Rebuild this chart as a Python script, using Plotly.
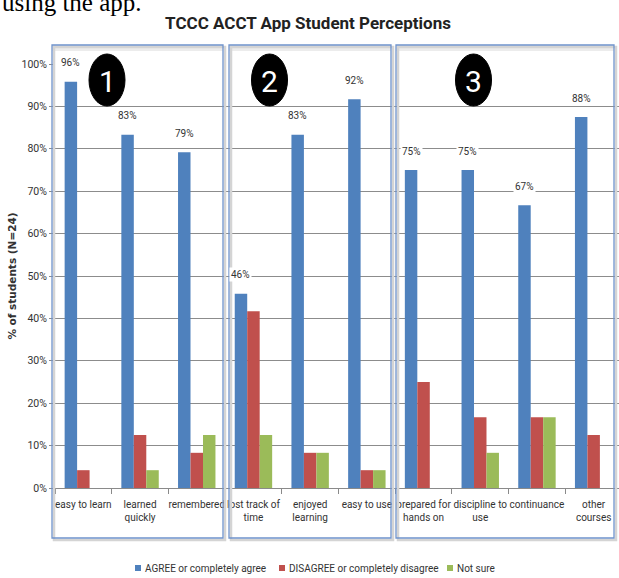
import plotly.graph_objects as go

# Survey results, percent of students (N=24)
categories = ["easy to learn", "learned<br>quickly", "remembered", "lost track of<br>time",
              "enjoyed<br>learning", "easy to use", "prepared for<br>hands on",
              "discipline to<br>use", "continuance", "other<br>courses"]
agree = [95.8, 83.3, 79.2, 45.8, 83.3, 91.7, 75.0, 75.0, 66.7, 87.5]
disagree = [4.2, 12.5, 8.3, 41.7, 8.3, 4.2, 25.0, 16.7, 16.7, 12.5]
not_sure = [0, 4.2, 12.5, 12.5, 8.3, 4.2, 0, 8.3, 16.7, 0]
series_names = ["AGREE or completely agree", "DISAGREE or completely disagree", "Not sure"]
y_ticks = list(range(0, 101, 10))
group_labels = ["1", "2", "3"]

FONT = "Roboto, Liberation Sans, sans-serif"
BLUE, RED, GREEN = "#4F81BD", "#C0504D", "#9BBB59"
colors = [BLUE, RED, GREEN]

# figure geometry (pixels)
W, H = 619, 578
L, T, B = 55, 64, 488
CAT_W = 56.7


def px(x):
    return (x - L) / (W - L)


def py(y):
    return (B - y) / (B - T)


fig = go.Figure()
for name, vals, col in zip(series_names, [agree, disagree, not_sure], colors):
    fig.add_trace(go.Bar(x=categories, y=vals, name=name, showlegend=False,
                         marker=dict(color=col, line=dict(width=0))))

# value labels on the "agree" bars
for c, v in zip(categories, agree):
    fig.add_annotation(x=c, y=v, xref="x", yref="y", text=f"{round(v)}%", showarrow=False,
                       xshift=-CAT_W * 0.22, yshift=19, bgcolor="white", borderpad=1,
                       font=dict(family=FONT, size=10, color="#333333"))

shapes = []
# panel boxes with a soft shadow
boxes = [(52, 45, 223, 538), (229, 45, 391, 538), (396, 45, 614, 538)]
for x0, y0, x1, y1 in boxes:
    shapes.append(dict(type="rect", xref="paper", yref="paper", layer="above",
                       x0=px(x0 + 2), x1=px(x1 + 2), y0=py(y0 + 2), y1=py(y1 + 2),
                       line=dict(color="#d4d4d4", width=2.5)))
    shapes.append(dict(type="rect", xref="paper", yref="paper", layer="below",
                       x0=px(x0), x1=px(x1), y0=py(y0), y1=py(y0 + 6),
                       fillcolor="#ececec", line=dict(width=0)))
    shapes.append(dict(type="rect", xref="paper", yref="paper", layer="above",
                       x0=px(x0), x1=px(x1), y0=py(y0), y1=py(y1),
                       line=dict(color="#6f93cc", width=1.3)))

# numbered group markers
centers = [107, 269.5, 473.5]
for cx, lab in zip(centers, group_labels):
    shapes.append(dict(type="circle", xref="paper", yref="paper", layer="above",
                       x0=px(cx - 18), x1=px(cx + 18), y0=py(54), y1=py(106),
                       fillcolor="black", line=dict(color="black", width=1)))
    fig.add_annotation(x=px(cx), y=py(81), xref="paper", yref="paper", text=lab,
                       xanchor="center", yanchor="middle", showarrow=False,
                       font=dict(family=FONT, size=30, color="white"))

# legend: small squares followed by the series names
legend_x = [135, 279, 447]
for name, col, lx in zip(series_names, colors, legend_x):
    shapes.append(dict(type="rect", xref="paper", yref="paper", layer="above",
                       x0=px(lx), x1=px(lx + 6), y0=py(571), y1=py(565),
                       fillcolor=col, line=dict(width=0)))
    fig.add_annotation(x=px(lx + 8), y=py(568), xref="paper", yref="paper", text=name,
                       xanchor="left", yanchor="middle", showarrow=False,
                       font=dict(family=FONT, size=10, color="#333333"))

# caption fragment at the top edge
fig.add_annotation(x=px(0), y=py(18), xref="paper", yref="paper", xanchor="left", yanchor="bottom",
                   text="using the app.", showarrow=False,
                   font=dict(family="Liberation Serif, Times New Roman, serif", size=25, color="black"))

fig.update_layout(
    width=W, height=H,
    margin=dict(l=L, r=0, t=T, b=H - B, pad=0),
    paper_bgcolor="white", plot_bgcolor="white",
    barmode="group", bargap=0.34, bargroupgap=0,
    shapes=shapes,
    showlegend=False,
    title=dict(text="<b>TCCC ACCT App Student Perceptions</b>", xref="container",
               x=308 / W, xanchor="center", y=1 - 23 / H, yanchor="middle",
               font=dict(family=FONT, size=17, color="#222222")),
    font=dict(family=FONT, size=10, color="#333333"),
)

fig.update_xaxes(type="category", range=[-0.5, 9.5 - (L + 10 * CAT_W - W) / CAT_W],
                 showline=True, linecolor="#8a8a8a", linewidth=1,
                 ticks="outside", tickson="boundaries", ticklen=5, tickcolor="#8a8a8a",
                 tickangle=0, showgrid=False, ticklabelstandoff=7,
                 tickfont=dict(family=FONT, size=10, color="#333333"),
                 fixedrange=True)
fig.update_yaxes(range=[0, 100], tickvals=y_ticks, ticktext=[f"{v}%" for v in y_ticks],
                 showline=True, linecolor="#8a8a8a", linewidth=1,
                 ticks="outside", ticklen=5, tickcolor="#8a8a8a",
                 showgrid=True, gridcolor="#8c8c8c", gridwidth=1.2, zeroline=False,
                 tickfont=dict(family=FONT, size=10.5, color="#333333"),
                 title=dict(text="<b>% of students (N=24)</b>", standoff=2,
                            font=dict(family="DejaVu Sans, sans-serif", size=10.5, color="#333333")))

fig.write_html("out.html")
